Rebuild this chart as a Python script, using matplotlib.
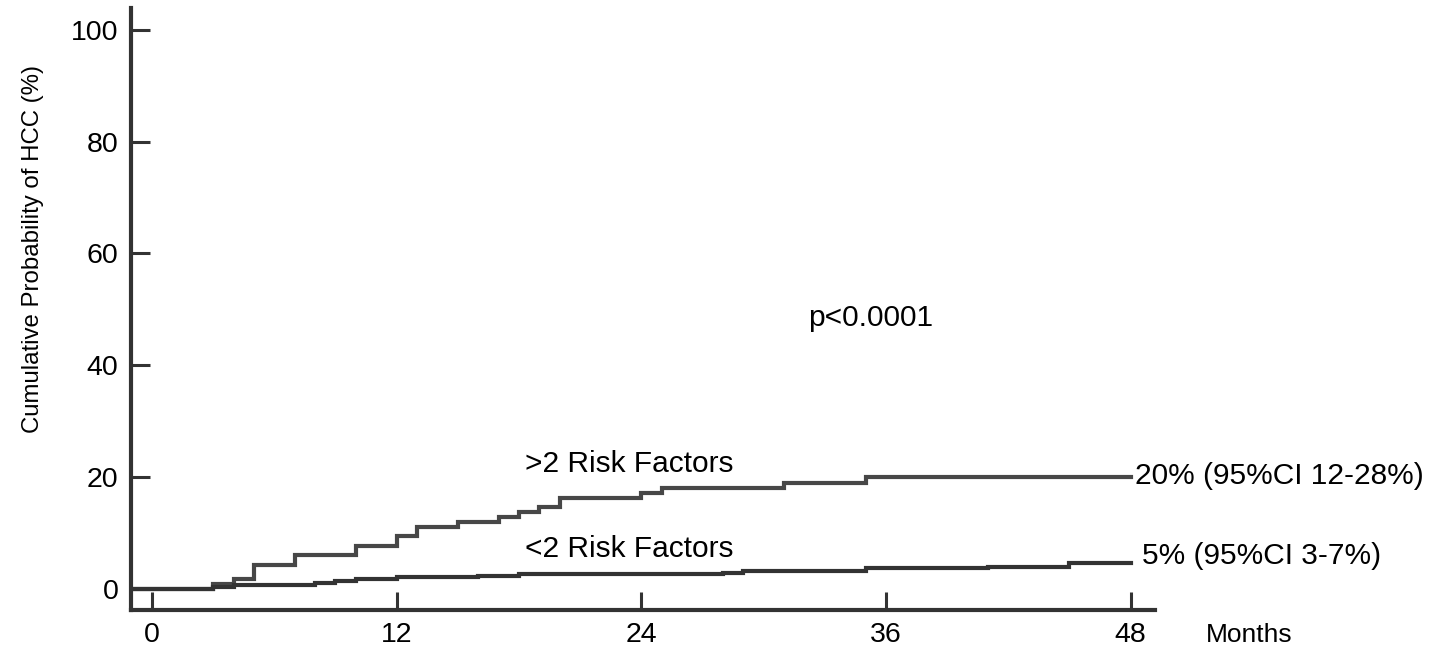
import matplotlib
matplotlib.use("Agg")
import matplotlib.pyplot as plt

plt.rcParams['font.family'] = ['Liberation Sans', 'DejaVu Sans']

# Step curves (months, cumulative %)
high_t = [-1, 3, 4, 5, 7, 10, 12, 13, 15, 17, 18, 19, 20, 24, 25, 31, 35, 48]
high_p = [0, 0.9, 1.7, 4.2, 6.0, 7.6, 9.5, 11.1, 12.0, 12.9, 13.7, 14.7, 16.2, 17.1, 18.0, 19.0, 20.0, 20.0]
low_t = [-1, 3, 4, 8, 9, 10, 12, 16, 18, 28, 29, 35, 41, 45, 48]
low_p = [0, 0.4, 0.7, 1.1, 1.4, 1.7, 2.1, 2.3, 2.6, 2.8, 3.2, 3.7, 4.0, 4.6, 4.6]

x_ticks = [0, 12, 24, 36, 48]
y_ticks = [0, 20, 40, 60, 80, 100]

fig = plt.figure(figsize=(14.33, 6.53), dpi=100)
ax = fig.add_axes([131/1433, 1 - 610/653, (1155-131)/1433, (610-8)/653])

ax.step(high_t, high_p, where='post', color='#474747', lw=3.0, solid_joinstyle='miter')
ax.step(low_t, low_p, where='post', color='#333333', lw=3.0, solid_joinstyle='miter')

ax.set_xlim(-1.03, 49.2)
ax.set_ylim(-3.76, 103.9)

for s in ['top', 'right']:
    ax.spines[s].set_visible(False)
for s in ['left', 'bottom']:
    ax.spines[s].set_linewidth(3)
    ax.spines[s].set_color('#333333')

ax.set_xticks(x_ticks)
ax.set_yticks(y_ticks)
ax.tick_params(axis='y', direction='in', length=14, width=2.2, color='#333333',
               labelsize=20.5, pad=9)
ax.tick_params(axis='x', direction='in', length=13, width=2.2, color='#333333',
               labelsize=20.5, pad=9)

ax.set_ylabel('Cumulative Probability of HCC (%)', fontsize=17.3)
ax.yaxis.set_label_coords(-0.085, 0.60)

fs = 21.5
ax.text(48.2, 20.2, '20% (95%CI 12-28%)', fontsize=fs, va='center', ha='left', clip_on=False)
ax.text(48.55, 5.9, '5% (95%CI 3-7%)', fontsize=fs, va='center', ha='left', clip_on=False)
ax.text(18.3, 22.4, '>2 Risk Factors', fontsize=fs, va='center', ha='left')
ax.text(18.3, 7.2, '<2 Risk Factors', fontsize=fs, va='center', ha='left')
ax.text(32.2, 48.5, 'p<0.0001', fontsize=fs, va='center', ha='left')
ax.text(51.7, -8.2, 'Months', fontsize=19, va='center', ha='left', clip_on=False)

fig.savefig('out.png', dpi=100)
